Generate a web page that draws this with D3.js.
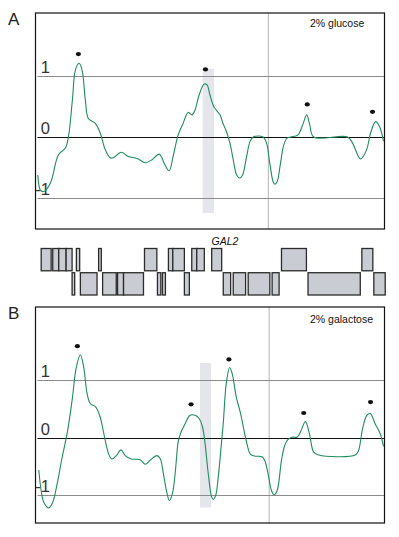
<!DOCTYPE html>
<html>
<head>
<meta charset="utf-8">
<script src="https://cdn.jsdelivr.net/npm/d3@7"></script>
<style>
  body { margin: 0; background: #fff; }
  svg { display: block; font-family: Arial, "Liberation Sans", sans-serif; }
</style>
</head>
<body>
<div id="chart"></div>
<script>
// positions along the locus, values in log units
const glucoseX = [2.3, 5, 8.3, 15, 23, 30, 33, 37, 40, 43.7, 46.7, 50, 53, 60, 65, 70, 75, 78, 86, 93, 102, 110, 117, 124, 130, 134, 138, 143, 148, 153, 157, 160, 164, 169, 172, 175, 179, 185, 188, 191, 195, 198.3, 201.7, 205, 207.7, 211.7, 215, 218.3, 228.3, 231.7, 235, 238.3, 240, 242.3, 245.7, 249, 252.3, 256, 263, 268, 272, 275, 279, 313, 318, 326, 332, 336, 341, 345, 349];
const glucoseY = [-0.62, -0.87, -0.89, -0.75, -0.29, -0.18, 0, 0.6, 1.09, 1.2, 1.09, 0.6, 0.3, 0.22, 0.06, -0.21, -0.34, -0.34, -0.25, -0.32, -0.35, -0.42, -0.37, -0.28, -0.46, -0.55, -0.32, 0.03, 0.22, 0.4, 0.36, 0.44, 0.68, 0.86, 0.85, 0.68, 0.49, 0.36, 0.22, 0.11, -0.1, -0.37, -0.62, -0.67, -0.62, -0.32, -0.08, 0, 0, -0.1, -0.43, -0.73, -0.77, -0.73, -0.43, -0.13, -0.02, 0, 0.03, 0.2, 0.36, 0.2, 0, 0, -0.1, -0.36, -0.21, 0.06, 0.25, 0.17, -0.07];

const galactoseX = [3.3, 5.7, 8.3, 13.3, 17.3, 21.7, 26.7, 31.7, 36.7, 41, 45, 48.3, 51.7, 55, 60, 64.3, 70, 73.3, 76.7, 81, 85.7, 90, 96, 105, 110, 115, 121.7, 125, 128.3, 131.7, 134.3, 137.3, 140, 143.3, 146, 150, 155, 160, 164.3, 167.3, 169.7, 173.3, 176.7, 178.3, 180.7, 183.3, 186.7, 188.5, 191.3, 194.7, 197.3, 201.3, 205.7, 210.7, 215.7, 220.7, 227.3, 230, 233.3, 236.7, 239.3, 242.3, 246.7, 250, 253.3, 257, 262.3, 265.7, 270.7, 274.7, 279, 284, 320.7, 324, 328, 332.3, 335.7, 340.7, 345.7, 349];
const galactoseY = [-0.56, -0.92, -1.12, -1.22, -1.12, -0.8, -0.34, 0.07, 0.65, 1.23, 1.44, 1.23, 0.77, 0.59, 0.54, 0.39, -0.05, -0.28, -0.37, -0.31, -0.21, -0.31, -0.37, -0.38, -0.46, -0.39, -0.31, -0.36, -0.63, -0.95, -1.09, -0.97, -0.63, -0.05, 0.1, 0.24, 0.39, 0.39, 0.33, 0.2, -0.05, -0.63, -1.03, -1.07, -1.0, -0.68, -0.05, 0.3, 0.94, 1.22, 1.11, 0.71, 0.42, 0, -0.29, -0.32, -0.33, -0.4, -0.63, -0.92, -0.99, -0.92, -0.39, -0.13, -0.03, 0.01, 0.01, 0.1, 0.28, 0.07, -0.25, -0.3, -0.3, -0.22, 0.16, 0.39, 0.42, 0.24, 0.07, -0.15];

// peak markers
const glucosePeaks = [[43, 1.35], [170.5, 1.1], [272.5, 0.53], [338, 0.41]];
const galactosePeaks = [[42, 1.59], [156, 0.58], [194, 1.36], [269, 0.43], [336, 0.62]];

// shaded region [start, end, top, bottom]
const glucoseBand = [167.7, 179, 1.11, -1.24];
const galactoseBand = [165, 176, 1.3, -1.21];

const yTicks = [1, 0, -1];

// gene track features [start, end]
const genesTop = [[5.7, 15.7], [17.3, 23.3], [23.3, 30.7], [30.7, 36.7], [41, 44.3], [63.3, 66], [109.3, 121.7], [133.3, 137.7], [137.7, 149.3], [156.7, 161.7], [161.7, 169.3], [176.7, 186.7], [246.7, 271.7], [327.3, 338.3]];
const genesBottom = [[36.7, 39.3], [45, 61.7], [67.3, 81], [82.3, 88.3], [88.3, 108.3], [122.3, 125.7], [127.3, 130.3], [149.3, 154.3], [188.3, 195.7], [198.3, 210.7], [213.3, 235], [237.3, 244.3], [273.3, 325.7], [339.3, 350.7]];
const geneLabel = { name: "GAL2", x: 190 };

const W = 399, H = 537;
const left = 35.5, right = 384.5;
const green = "#1f8c5c";

const svg = d3.select("#chart").append("svg")
  .attr("width", W)
  .attr("height", H);

const x = d3.scaleLinear().domain([0, 350]).range([left, right]);

function drawPanel(opts) {
  const { top, bottom, domain, xs, ys, peaks, band, vline, letter, title, titleY } = opts;
  const y = d3.scaleLinear().domain(domain).range([bottom, top]);
  const g = svg.append("g");

  // shaded band
  g.append("rect")
    .attr("x", x(band[0]))
    .attr("y", y(band[2]))
    .attr("width", x(band[1]) - x(band[0]))
    .attr("height", y(band[3]) - y(band[2]))
    .attr("fill", "#e5e5ec");

  // vertical marker
  g.append("line")
    .attr("x1", x(vline)).attr("x2", x(vline))
    .attr("y1", top).attr("y2", bottom)
    .attr("stroke", "#b4b4b4")
    .attr("stroke-width", 1);

  // horizontal grid
  g.selectAll(".grid")
    .data(yTicks)
    .enter()
    .append("line")
    .attr("x1", left + 2)
    .attr("x2", right)
    .attr("y1", (d) => Math.round(y(d)) + 0.5)
    .attr("y2", (d) => Math.round(y(d)) + 0.5)
    .attr("stroke", (d) => (d === 0 ? "#111" : "#8c8c8c"))
    .attr("stroke-width", 1);

  g.selectAll(".ylab")
    .data(yTicks)
    .enter()
    .append("text")
    .attr("x", 50)
    .attr("y", (d) => y(d) - 3)
    .attr("text-anchor", "end")
    .attr("font-size", 16.5)
    .attr("fill", "#333")
    .text((d) => d);

  // profile
  const pts = xs.map((d, i) => [d, ys[i]]);
  const line = d3.line()
    .x((d) => x(d[0]))
    .y((d) => y(d[1]))
    .curve(d3.curveCatmullRom.alpha(0.5));
  g.append("path")
    .datum(pts)
    .attr("d", line)
    .attr("fill", "none")
    .attr("stroke", green)
    .attr("stroke-width", 1.1);

  g.selectAll(".peak")
    .data(peaks)
    .enter()
    .append("ellipse")
    .attr("cx", (d) => x(d[0]))
    .attr("cy", (d) => y(d[1]))
    .attr("rx", 2.6)
    .attr("ry", 2.1)
    .attr("fill", "#111");

  // frame
  g.append("rect")
    .attr("x", left)
    .attr("y", top)
    .attr("width", right - left)
    .attr("height", bottom - top)
    .attr("fill", "none")
    .attr("stroke", "#111")
    .attr("stroke-width", 1.2);

  g.append("text")
    .attr("x", 310)
    .attr("y", titleY)
    .attr("font-size", 10.5)
    .attr("fill", "#111")
    .text(title);

  svg.append("text")
    .attr("x", 8)
    .attr("y", top + 12)
    .attr("font-size", 17)
    .attr("fill", "#222")
    .text(letter);
}

drawPanel({
  top: 13, bottom: 229, domain: [-1.5, 2.02],
  xs: glucoseX, ys: glucoseY, peaks: glucosePeaks, band: glucoseBand,
  vline: 233.5, letter: "A", title: "2% glucose", titleY: 26.5
});

drawPanel({
  top: 307, bottom: 523, domain: [-1.48, 2.27],
  xs: galactoseX, ys: galactoseY, peaks: galactosePeaks, band: galactoseBand,
  vline: 234.3, letter: "B", title: "2% galactose", titleY: 323
});

// gene track
const row = d3.scaleBand()
  .domain(["top", "bottom"])
  .range([248.5, 295])
  .paddingInner(0.08);

const geneRows = [["top", genesTop], ["bottom", genesBottom]];
geneRows.forEach(([key, feats]) => {
  svg.append("g")
    .selectAll("rect")
    .data(feats)
    .enter()
    .append("rect")
    .attr("x", (d) => x(d[0]))
    .attr("y", row(key))
    .attr("width", (d) => x(d[1]) - x(d[0]))
    .attr("height", row.bandwidth())
    .attr("fill", "#c9ccd3")
    .attr("stroke", "#2b2b2b")
    .attr("stroke-width", 1.3);
});

svg.append("text")
  .attr("x", x(geneLabel.x))
  .attr("y", 245)
  .attr("text-anchor", "middle")
  .attr("font-size", 10.5)
  .attr("font-style", "italic")
  .attr("fill", "#111")
  .text(geneLabel.name);
</script>
</body>
</html>
